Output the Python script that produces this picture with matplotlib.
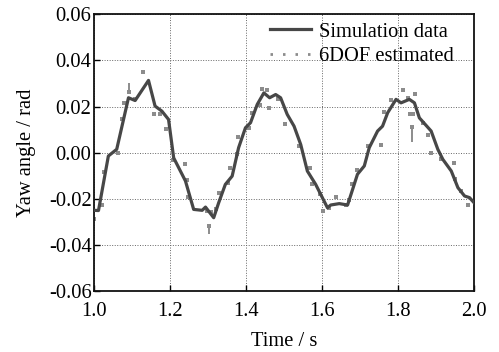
import matplotlib
matplotlib.use("Agg")
import matplotlib.pyplot as plt
from matplotlib.ticker import FormatStrFormatter

# Simulation data (solid line)
sim_t = [1.000, 1.011, 1.037, 1.059, 1.090, 1.1075, 1.1427, 1.160, 1.178, 1.1955,
         1.209, 1.240, 1.2616, 1.284, 1.2928, 1.3144, 1.3276, 1.345, 1.363, 1.380,
         1.398, 1.4114, 1.429, 1.4465, 1.4617, 1.4775, 1.4906, 1.508, 1.526, 1.5435,
         1.561, 1.583, 1.614, 1.6227, 1.645, 1.667, 1.693, 1.711, 1.724, 1.746,
         1.759, 1.7725, 1.7945, 1.8077, 1.8296, 1.843, 1.856, 1.887, 1.9046, 1.918,
         1.940, 1.9575, 1.975, 1.988, 2.000]
sim_y = [-0.0249, -0.0250, -0.0014, 0.0015, 0.0238, 0.0226, 0.0313, 0.0202, 0.0180, 0.0144,
         -0.0022, -0.0122, -0.0245, -0.0249, -0.0235, -0.0281, -0.0216, -0.0137, -0.0101, 0.0022,
         0.0108, 0.0130, 0.0209, 0.0259, 0.0238, 0.0252, 0.0238, 0.0166, 0.0115, 0.0036,
         -0.0079, -0.0137, -0.0238, -0.0226, -0.0220, -0.0226, -0.0093, -0.0057, 0.0022, 0.0094,
         0.0115, 0.0173, 0.0231, 0.0216, 0.0231, 0.0216, 0.0151, 0.0094, 0.0015, -0.0029,
         -0.0079, -0.0151, -0.0187, -0.0194, -0.0216]

# 6DOF estimated samples (visible dots)
est_t = [1.000, 1.0195, 1.026, 1.0634, 1.072, 1.079, 1.1075, 1.1295, 1.156, 1.1736,
         1.1894, 1.208, 1.240, 1.244, 1.247, 1.297, 1.306, 1.321, 1.329, 1.351,
         1.358, 1.376, 1.378, 1.407, 1.416, 1.436, 1.442, 1.4555, 1.460, 1.4835,
         1.502, 1.538, 1.568, 1.574, 1.594, 1.601, 1.618, 1.6355, 1.662, 1.672,
         1.678, 1.6905, 1.722, 1.755, 1.762, 1.781, 1.812, 1.825, 1.8325, 1.840,
         1.845, 1.866, 1.879, 1.886, 1.913, 1.947, 1.950, 1.966, 1.983]
est_y = [-0.0288, -0.0227, -0.0085, 0.0000, 0.0144, 0.0216, 0.0231, 0.0350, 0.0168, 0.0166,
         0.0101, -0.0030, -0.0048, -0.0117, -0.0190, -0.0252, -0.0256, -0.0245, -0.0173, -0.0130,
         -0.0065, -0.0007, 0.0068, 0.0105, 0.0173, 0.0206, 0.0274, 0.0270, 0.0194, 0.0233,
         0.0125, 0.0030, -0.0067, -0.0137, -0.0177, -0.0252, -0.0240, -0.0190, -0.0226, -0.0205,
         -0.0137, -0.0076, 0.0029, 0.0033, 0.0176, 0.0230, 0.0270, 0.0238, 0.0166, 0.0166,
         0.0255, 0.0130, 0.0078, 0.0000, -0.0029, -0.0043, -0.0113, -0.0165, -0.0226]

# Short spikes in the estimate
spike_t = [1.0917, 1.3015, 1.8365]
spike_from = [0.0262, -0.0315, 0.0110]
spike_to = [0.0302, -0.0350, 0.0045]

xticks = [1.0, 1.2, 1.4, 1.6, 1.8, 2.0]
yticks = [-0.06, -0.04, -0.02, 0.00, 0.02, 0.04, 0.06]

plt.rcParams['font.family'] = ['Liberation Serif', 'DejaVu Serif']
fs = 14.8

fig = plt.figure(figsize=(4.99, 3.52), dpi=100)
ax = fig.add_axes([0.189, 0.172, 0.761, 0.788])

line_col = '#474747'
dot_col = '#8c8c8c'

ax.plot(est_t, est_y, ls='none', marker='s', ms=2.4, mew=0, color=dot_col, zorder=2)
ax.vlines(spike_t, spike_from, spike_to, colors=dot_col, lw=1.4, zorder=2)
ax.plot(spike_t, spike_from, ls='none', marker='s', ms=2.4, mew=0, color=dot_col, zorder=2)
ax.plot(sim_t, sim_y, color=line_col, lw=2.3, solid_joinstyle='round',
        label='Simulation data', zorder=3)
ax.plot([], [], color=dot_col, lw=2.0, ls=(0, (0.9, 3.6)), label='6DOF estimated')

ax.set_xlim(1.0, 2.0)
ax.set_ylim(-0.06, 0.06)
ax.set_xticks(xticks)
ax.set_yticks(yticks)
ax.xaxis.set_major_formatter(FormatStrFormatter('%.1f'))
ax.yaxis.set_major_formatter(FormatStrFormatter('%.2f'))
ax.tick_params(direction='in', length=4, width=1.0, labelsize=fs,
               top=False, right=False)
ax.tick_params(axis='x', pad=7.5)
ax.tick_params(axis='y', pad=2)
ax.grid(True, ls=(0, (1, 1.6)), lw=0.7, color='#666666')
for s in ax.spines.values():
    s.set_linewidth(1.3)
    s.set_color('#111111')

ax.set_xlabel('Time / s', fontsize=fs, labelpad=8)
ax.set_ylabel('Yaw angle / rad', fontsize=fs, labelpad=9)

ax.legend(loc='upper right', bbox_to_anchor=(0.968, 1.0), borderaxespad=0,
          frameon=False, fontsize=fs, handlelength=2.0, handletextpad=0.4,
          labelspacing=0.25)

fig.savefig('out.png', dpi=100)
